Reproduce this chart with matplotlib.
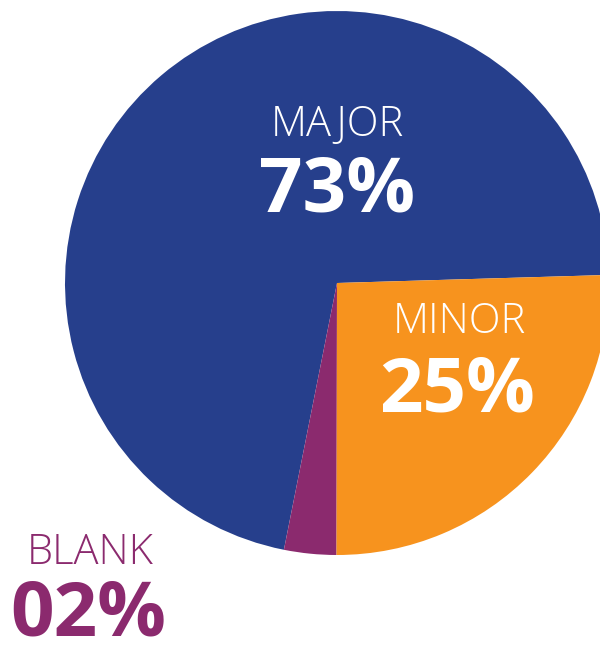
import matplotlib.pyplot as plt

# slice sizes as drawn (degrees of the circle, in %)
categories = ['MAJOR', 'BLANK', 'MINOR']
shares = [71.4, 3.1, 25.5]
pct_labels = ['73%', '02%', '25%']
colors = ['#263F8C', '#8B2A6E', '#F7931E']

W, H = 600, 650
fig = plt.figure(figsize=(6, 6.5), dpi=100)

# pie centre at (337, 283) px from top-left, radius 272 px
cx, cy, r = 337, 283, 272
ax = fig.add_axes([(cx - r) / W, (H - cy - r) / H, 2 * r / W, 2 * r / H])
ax.pie(shares, colors=colors, startangle=1.7, counterclock=True, radius=1,
       wedgeprops={'linewidth': 0})
ax.set_xlim(-1, 1)
ax.set_ylim(-1, 1)
ax.set_aspect('auto')
ax.axis('off')


def put(px, py, s, color, size, weight):
    fig.text(px / W, 1 - py / H, s, color=color, fontsize=size, fontweight=weight,
             family='Open Sans', ha='center', va='center')


# label positions in pixels
put(337, 125, categories[0], 'white', 30, 'light')
put(337, 192, pct_labels[0], 'white', 55, 'bold')
put(459, 322, categories[2], 'white', 30, 'light')
put(457, 392, pct_labels[2], 'white', 55, 'bold')
put(90, 553, categories[1], colors[1], 30, 'light')
put(88, 616, pct_labels[1], colors[1], 55, 'bold')

fig.savefig('out.png', dpi=100)
